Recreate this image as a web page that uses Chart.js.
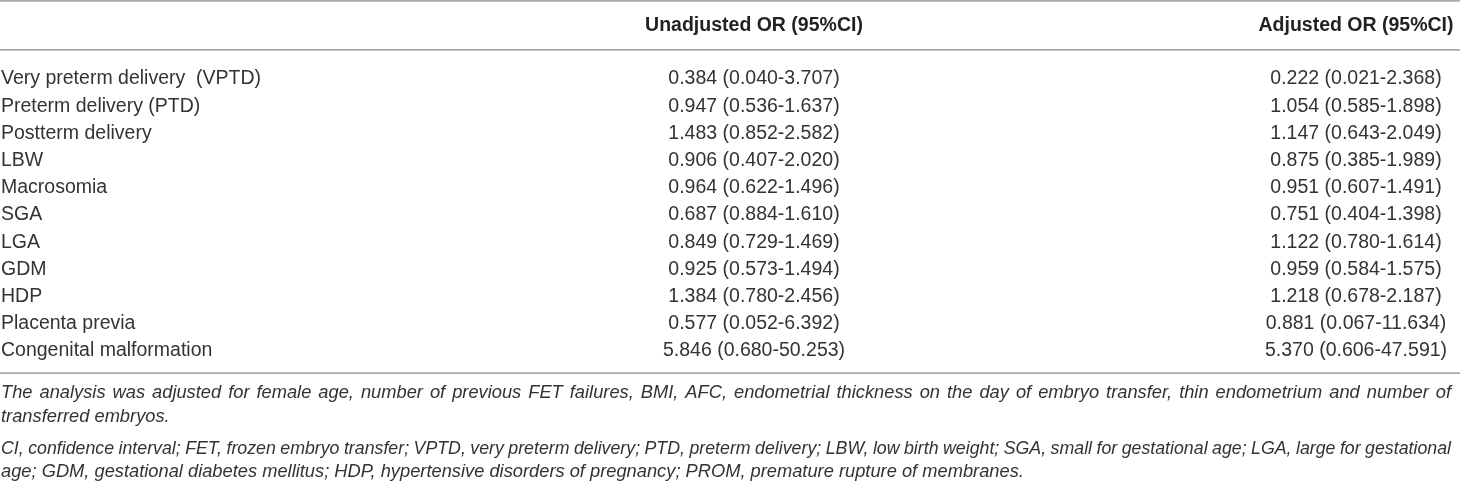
<!DOCTYPE html>
<html>
<head>
<meta charset="utf-8">
<script src="https://cdn.jsdelivr.net/npm/chart.js@4.4.1/dist/chart.umd.min.js"></script>
<style>
  html, body { margin: 0; padding: 0; background: #fff; }
  #wrap { width: 1460px; height: 482px; position: relative; }
</style>
</head>
<body>
<div id="wrap"><canvas id="tableChart"></canvas></div>
<script>
// Row labels
const outcomes = [
    "Very preterm delivery  (VPTD)",
    "Preterm delivery (PTD)",
    "Postterm delivery",
    "LBW",
    "Macrosomia",
    "SGA",
    "LGA",
    "GDM",
    "HDP",
    "Placenta previa",
    "Congenital malformation"
];

// Unadjusted odds ratios with 95% CI
const unadjOR   = [0.384, 0.947, 1.483, 0.906, 0.964, 0.687, 0.849, 0.925, 1.384, 0.577, 5.846];
const unadjLow  = [0.040, 0.536, 0.852, 0.407, 0.622, 0.884, 0.729, 0.573, 0.780, 0.052, 0.680];
const unadjHigh = [3.707, 1.637, 2.582, 2.020, 1.496, 1.610, 1.469, 1.494, 2.456, 6.392, 50.253];

// Adjusted odds ratios with 95% CI
const adjOR   = [0.222, 1.054, 1.147, 0.875, 0.951, 0.751, 1.122, 0.959, 1.218, 0.881, 5.370];
const adjLow  = [0.021, 0.585, 0.643, 0.385, 0.607, 0.404, 0.780, 0.584, 0.678, 0.067, 0.606];
const adjHigh = [2.368, 1.898, 2.049, 1.989, 1.491, 1.398, 1.614, 1.575, 2.187, 11.634, 47.591];

const columnHeaders = ["", "Unadjusted OR (95%CI)", "Adjusted OR (95%CI)"];

const footnotes = [
    [
        "The analysis was adjusted for female age, number of previous FET failures, BMI, AFC, endometrial thickness on the day of embryo transfer, thin endometrium and number of",
        "transferred embryos."
    ],
    [
        "CI, confidence interval; FET, frozen embryo transfer; VPTD, very preterm delivery; PTD, preterm delivery; LBW, low birth weight; SGA, small for gestational age; LGA, large for gestational",
        "age; GDM, gestational diabetes mellitus; HDP, hypertensive disorders of pregnancy; PROM, premature rupture of membranes."
    ]
];

// Layout
const FONT = '"Liberation Sans", Arial, sans-serif';
const TEXT_COLOR = '#333';
const RULE_COLOR = '#a8a8a8';
const colX = [1, 754, 1356];
const colAlign = ['left', 'center', 'center'];

function formatOR(or, lo, hi) {
    return `${or.toFixed(3)} (${lo.toFixed(3)}-${hi.toFixed(3)})`;
}

const unadjTexts = unadjOR.map((v, i) => formatOR(v, unadjLow[i], unadjHigh[i]));
const adjTexts = adjOR.map((v, i) => formatOR(v, adjLow[i], adjHigh[i]));
const columnTexts = [outcomes, unadjTexts, adjTexts];

// Draw a line of text stretched to a given width (justified).
// If it is too long even with plain spaces, squeeze it horizontally.
function drawJustified(ctx, text, x, y, width) {
    const words = text.split(' ');
    const natural = words.reduce((s, w) => s + ctx.measureText(w).width, 0);
    const minGap = ctx.measureText(' ').width * 0.9;
    let sx = 1;
    if (natural + minGap * (words.length - 1) > width) {
        sx = width / (natural + minGap * (words.length - 1));
    }
    const gap = (width / sx - natural) / (words.length - 1);
    ctx.save();
    ctx.translate(x, y);
    ctx.scale(sx, 1);
    let cx = 0;
    words.forEach(w => {
        ctx.fillText(w, cx, 0);
        cx += ctx.measureText(w).width + gap;
    });
    ctx.restore();
}

function hRule(ctx, y, x0, x1) {
    ctx.beginPath();
    ctx.moveTo(x0, y);
    ctx.lineTo(x1, y);
    ctx.stroke();
}

// Plugin that writes every cell at the point the scales give it
const tablePlugin = {
    id: 'tablePlugin',
    afterDatasetsDraw(chart) {
        const ctx = chart.ctx;
        const area = chart.chartArea;
        const w = chart.width;
        ctx.save();

        // rules
        ctx.strokeStyle = RULE_COLOR;
        ctx.lineWidth = 1.6;
        hRule(ctx, area.top - 64.5, 0, w);
        hRule(ctx, area.top - 15.5, 0, w);
        hRule(ctx, area.bottom + 8.5, 0, w);

        // header
        ctx.fillStyle = '#222';
        ctx.font = `bold 19.5px ${FONT}`;
        ctx.textBaseline = 'middle';
        columnHeaders.forEach((h, c) => {
            ctx.textAlign = colAlign[c];
            ctx.fillText(h, colX[c], area.top - 40);
        });

        // body cells
        ctx.fillStyle = TEXT_COLOR;
        ctx.font = `19.5px ${FONT}`;
        chart.data.datasets.forEach((ds, c) => {
            const meta = chart.getDatasetMeta(c);
            ctx.textAlign = colAlign[c];
            meta.data.forEach((pt, i) => {
                ctx.fillText(ds.texts[i], pt.x, pt.y);
            });
        });

        // footnotes
        ctx.font = `italic 18.3px ${FONT}`;
        ctx.textAlign = 'left';
        const fy = area.bottom + 8.5;
        const lineYs = [[fy + 20, fy + 44], [fy + 76, fy + 99]];
        footnotes.forEach((para, p) => {
            para.forEach((line, l) => {
                if (l < para.length - 1) {
                    drawJustified(ctx, line, 1, lineYs[p][l], 1450);
                } else {
                    ctx.fillText(line, 1, lineYs[p][l]);
                }
            });
        });

        ctx.restore();
    }
};

const datasets = columnTexts.map((texts, c) => ({
    label: columnHeaders[c] || 'Outcome',
    data: outcomes.map(o => ({ x: colX[c], y: o })),
    texts: texts,
    pointRadius: 0,
    pointHoverRadius: 0,
    showLine: false
}));

new Chart(document.getElementById('tableChart'), {
    type: 'scatter',
    data: { datasets },
    options: {
        responsive: true,
        maintainAspectRatio: false,
        animation: false,
        events: [],
        layout: { padding: { top: 65.4, bottom: 117.4, left: 0, right: 0 } },
        plugins: {
            legend: { display: false },
            tooltip: { enabled: false }
        },
        scales: {
            x: { type: 'linear', min: 0, max: 1460, display: false },
            y: { type: 'category', labels: outcomes, offset: true, display: false }
        }
    },
    plugins: [tablePlugin]
});
</script>
</body>
</html>
